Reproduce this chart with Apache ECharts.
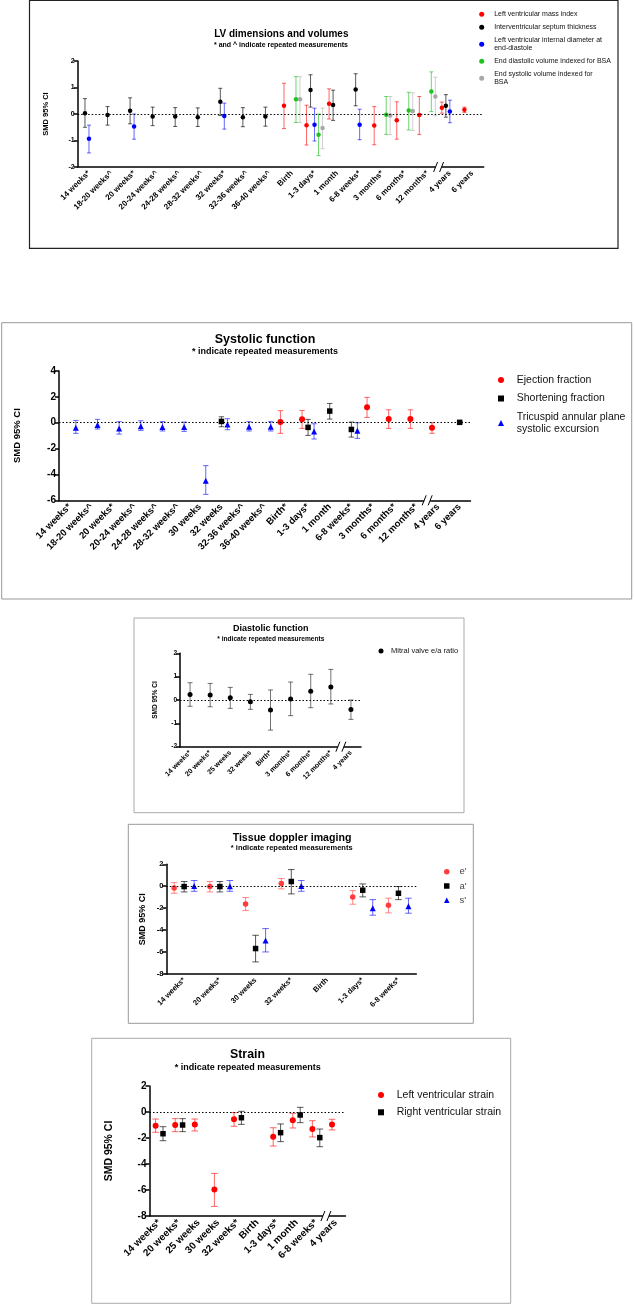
<!DOCTYPE html>
<html><head><meta charset="utf-8">
<script src="https://cdn.jsdelivr.net/npm/echarts@6/dist/echarts.min.js"></script>
<style>html,body{margin:0;padding:0;background:#fff}#c{width:634px;height:1304px}</style>
</head><body><div id="c"></div>
<script>
const _ = null;
// ===== DATA: each entry is [SMD, lower 95% CI, upper 95% CI] or null =====
// Panel 1: LV dimensions and volumes
const lvCategories = ['14 weeks*','18-20 weeks^','20 weeks*','20-24 weeks^','24-28 weeks^','28-32 weeks^','32 weeks*','32-36 weeks^','36-40 weeks^','Birth','1-3 days*','1 month','6-8 weeks*','3 months*','6 months*','12 months*','4 years','6 years'];
const lvMassIndex = [_,_,_,_,_,_,_,_,_,[0.31,-0.55,1.16],[-0.42,-1.17,0.33],[0.39,-0.19,0.95],_,[-0.43,-1.16,0.28],[-0.24,-0.95,0.46],[-0.04,-0.77,0.66],[0.24,0.03,0.45],[0.16,0.06,0.26]];
const ivsThickness = [[0.03,-0.50,0.58],[-0.04,-0.42,0.28],[0.12,-0.37,0.61],[-0.09,-0.44,0.26],[-0.09,-0.47,0.24],[-0.12,-0.47,0.23],[0.46,-0.06,0.97],[-0.12,-0.48,0.24],[-0.09,-0.46,0.26],_,[0.91,0.26,1.48],[0.34,-0.24,0.90],[0.92,0.31,1.52],_,_,_,[0.31,-0.12,0.73],_];
const lvidDiastole = [[-0.93,-1.47,-0.42],_,[-0.47,-0.95,0.0],_,_,_,[-0.08,-0.57,0.41],_,_,_,[-0.41,-1.02,0.22],_,[-0.41,-0.97,0.18],_,_,_,[0.09,-0.33,0.52],_];
const edvIndexed = [_,_,_,_,_,_,_,_,_,[0.56,-0.32,1.41],[-0.78,-1.57,0.0],_,_,[-0.03,-0.77,0.66],[0.13,-0.60,0.82],[0.85,0.09,1.59],_,_];
const esvIndexed = [_,_,_,_,_,_,_,_,_,[0.56,-0.32,1.41],[-0.53,-1.31,0.22],_,_,[-0.06,-0.78,0.66],[0.11,-0.62,0.80],[0.66,-0.07,1.39],_,_];
// Panel 2: Systolic function
const sysCategories = ['14 weeks*','18-20 weeks^','20 weeks*','20-24 weeks^','24-28 weeks^','28-32 weeks^','30 weeks','32 weeks','32-36 weeks^','36-40 weeks^','Birth*','1-3 days*','1 month','6-8 weeks*','3 months*','6 months*','12 months*','4 years','6 years'];
const ejectionFraction = [_,_,_,_,_,_,_,_,_,_,[0.05,-0.82,0.93],[0.26,-0.44,0.95],_,_,[1.19,0.41,1.96],[0.28,-0.44,1.0],[0.28,-0.44,1.0],[-0.39,-0.82,0.0],_];
const shorteningFraction = [_,_,_,_,_,_,_,[0.10,-0.31,0.46],_,_,_,[-0.36,-0.98,0.26],[0.90,0.28,1.49],[-0.52,-1.11,0.05],_,_,_,_,[0.03,-0.05,0.10]];
const tapse = [[-0.39,-0.82,0.18],[-0.18,-0.49,0.26],[-0.44,-0.88,0.08],[-0.28,-0.59,0.15],[-0.34,-0.64,0.08],[-0.34,-0.67,0.05],[-4.48,-5.54,-3.32],[-0.13,-0.54,0.31],[-0.31,-0.64,0.08],[-0.31,-0.64,0.08],_,[-0.67,-1.26,-0.08],_,[-0.62,-1.21,0.0],_,_,_,_,_];
// Panel 3: Diastolic function
const diaCategories = ['14 weeks*','20 weeks*','25 weeks','32 weeks','Birth*','3 months*','6 months*','12 months*','4 years'];
const mitralEA = [[0.24,-0.27,0.74],[0.21,-0.29,0.71],[0.10,-0.36,0.54],[-0.07,-0.40,0.24],[-0.43,-1.29,0.43],[0.04,-0.67,0.77],[0.37,-0.33,1.10],[0.56,-0.17,1.31],[-0.41,-0.83,0.0]];
// Panel 4: Tissue doppler imaging
const tdiCategories = ['14 weeks*','20 weeks*','30 weeks','32 weeks*','Birth','1-3 days*','6-8 weeks*'];
const ePrime = [[-0.15,-0.64,0.33],[-0.03,-0.52,0.43],[-1.61,-2.22,-1.03],[0.24,-0.24,0.70],_,[-0.97,-1.64,-0.40],[-1.73,-2.43,-1.09]];
const aPrime = [[-0.03,-0.52,0.43],[-0.03,-0.52,0.43],[-5.68,-6.90,-4.47],[0.43,-0.70,1.52],_,[-0.36,-0.97,0.21],[-0.64,-1.22,-0.03]];
const sPrime = [[0.03,-0.46,0.52],[0.0,-0.46,0.52],[-4.95,-5.99,-3.86],[0.03,-0.46,0.52],_,[-2.0,-2.64,-1.22],[-1.82,-2.46,-1.09]];
// Panel 5: Strain
const strainCategories = ['14 weeks*','20 weeks*','25 weeks','30 weeks','32 weeks*','Birth','1-3 days*','1 month','6-8 weeks*','4 years'];
const lvStrain = [[-1.05,-1.56,-0.54],[-1.0,-1.51,-0.51],[-0.97,-1.46,-0.54],[-5.97,-7.26,-4.72],[-0.56,-1.10,-0.05],_,[-1.90,-2.62,-1.21],[-0.64,-1.23,-0.10],[-1.31,-1.92,-0.67],[-0.97,-1.38,-0.56]];
const rvStrain = [[-1.67,-2.21,-1.13],[-1.0,-1.51,-0.51],_,_,[-0.44,-0.95,0.05],_,[-1.59,-2.28,-0.92],[-0.23,-0.82,0.36],[-1.97,-2.67,-1.31],_];

// ===== STYLE / LAYOUT =====
const FONT = '"Liberation Sans", Arial, Helvetica, sans-serif';
const RED='#ff0000', BLACK='#000000', BLUE='#0000ff', GREEN='#1fc21f', GREY='#a8a8a8';
const series = [];

function errRender(offset, cap, color, lw) {
  return function (params, api) {
    const i = api.value(0);
    const lo = api.coord([i, api.value(2)]);
    const hi = api.coord([i, api.value(3)]);
    const x = lo[0] + offset;
    const style = { stroke: color, lineWidth: lw, fill: null };
    return { type: 'group', children: [
      { type: 'line', shape: { x1: x, y1: lo[1], x2: x, y2: hi[1] }, style },
      { type: 'line', shape: { x1: x - cap, y1: lo[1], x2: x + cap, y2: lo[1] }, style },
      { type: 'line', shape: { x1: x - cap, y1: hi[1], x2: x + cap, y2: hi[1] }, style }
    ]};
  };
}
function addMeasure(gi, name, values, o) {
  const pts = [], bars = [];
  values.forEach((v, i) => { if (v) { pts.push([i, v[0]]); bars.push([i, v[0], v[1], v[2]]); } });
  series.push({ type: 'custom', name: name + ' (CI)', xAxisIndex: gi, yAxisIndex: gi, z: 2, silent: true, clip: false,
    renderItem: errRender(o.offset, o.cap, o.bar, o.lw || 1), encode: { x: 0, y: [1, 2, 3] }, data: bars });
  const s = { type: 'scatter', name, xAxisIndex: gi, yAxisIndex: gi, z: 3, silent: true,
    symbol: o.symbol || 'circle', symbolSize: o.size, symbolOffset: [o.offset, 0],
    itemStyle: { color: o.color, opacity: 1 }, data: pts };
  if (o.zero) s.markLine = { silent: true, symbol: 'none', animation: false, label: { show: false },
    lineStyle: { type: [1.5, 2], color: '#000', width: 1.2 }, data: [{ yAxis: 0 }] };
  series.push(s);
}
function addBreak(gi, afterIndex, ymin) {
  series.push({ type: 'custom', xAxisIndex: gi, yAxisIndex: gi, silent: true, z: 6, clip: false,
    data: [[afterIndex, ymin]], encode: { x: 0, y: 1 },
    renderItem(params, api) {
      const a = api.coord([api.value(0), api.value(1)]);
      const b = api.coord([api.value(0) + 1, api.value(1)]);
      const x = (a[0] + b[0]) / 2, y = params.coordSys.y + params.coordSys.height;
      const st = { stroke: '#000', lineWidth: 1, fill: null };
      return { type: 'group', children: [
        { type: 'rect', shape: { x: x - 3, y: y - 2, width: 6, height: 4 }, style: { fill: '#fff', stroke: null } },
        { type: 'line', shape: { x1: x - 5, y1: y + 5, x2: x - 1, y2: y - 5 }, style: st },
        { type: 'line', shape: { x1: x + 1, y1: y + 5, x2: x + 5, y2: y - 5 }, style: st }
      ]};
    } });
}
function xAx(gi, cats, fs) {
  return { type: 'category', gridIndex: gi, data: cats, boundaryGap: true,
    axisLine: { onZero: false, lineStyle: { color: '#000', width: 1.5 } },
    axisTick: { alignWithLabel: true, length: 4, lineStyle: { color: '#000', width: 1.5 } },
    axisLabel: { interval: 0, rotate: 45, margin: 5, color: '#000', fontWeight: 'bold', fontSize: fs, fontFamily: FONT },
    splitLine: { show: false } };
}
function yAx(gi, min, max, step, fs, nameFs, gap) {
  return { type: 'value', gridIndex: gi, min, max, interval: step,
    name: 'SMD 95% CI', nameLocation: 'middle', nameGap: gap, nameRotate: 90,
    nameTextStyle: { fontSize: nameFs, fontWeight: 'bold', color: '#000', fontFamily: FONT },
    axisLine: { show: true, onZero: false, lineStyle: { color: '#000', width: 1.5 } },
    axisTick: { show: true, length: 4, lineStyle: { color: '#000', width: 1.5 } },
    axisLabel: { color: '#000', fontWeight: 'bold', fontSize: fs, margin: 3, fontFamily: FONT },
    splitLine: { show: false } };
}

// Panel 1
addMeasure(0, 'Left ventricular mass index', lvMassIndex, { offset: -8, cap: 2, color: RED, bar: 'rgba(255,0,0,0.6)', size: 4.5, zero: true });
addMeasure(0, 'Interventricular septum thickness', ivsThickness, { offset: -4, cap: 2, color: BLACK, bar: 'rgba(0,0,0,0.65)', size: 4.5 });
addMeasure(0, 'Left ventricular internal diameter at end-diastole', lvidDiastole, { offset: 0, cap: 2, color: BLUE, bar: 'rgba(0,0,255,0.6)', size: 4.5 });
addMeasure(0, 'End diastolic volume indexed for BSA', edvIndexed, { offset: 4, cap: 2, color: GREEN, bar: 'rgba(30,194,30,0.65)', size: 4.5 });
addMeasure(0, 'End systolic volume indexed for BSA', esvIndexed, { offset: 8, cap: 2, color: GREY, bar: 'rgba(168,168,168,0.55)', size: 4.5 });
addBreak(0, 15, -2);
// Panel 2
addMeasure(1, 'Ejection fraction', ejectionFraction, { offset: -6, cap: 2.7, color: RED, bar: 'rgba(255,0,0,0.6)', size: 6, zero: true });
addMeasure(1, 'Shortening fraction', shorteningFraction, { offset: 0, cap: 2.7, color: BLACK, bar: 'rgba(0,0,0,0.65)', size: 5.5, symbol: 'rect' });
addMeasure(1, 'Tricuspid annular plane systolic excursion', tapse, { offset: 6, cap: 2.7, color: BLUE, bar: 'rgba(0,0,255,0.6)', size: 6, symbol: 'triangle' });
addBreak(1, 16, -6);
// Panel 3
addMeasure(2, 'Mitral valve e/a ratio', mitralEA, { offset: 0, cap: 2.5, color: BLACK, bar: 'rgba(0,0,0,0.55)', size: 5, zero: true });
addBreak(2, 7, -2);
// Panel 4
addMeasure(3, "e'", ePrime, { offset: -10, cap: 3.3, color: '#ff3b3b', bar: 'rgba(255,40,40,0.55)', size: 5.5, zero: true });
addMeasure(3, "a'", aPrime, { offset: 0, cap: 3.3, color: BLACK, bar: 'rgba(0,0,0,0.65)', size: 5.5, symbol: 'rect' });
addMeasure(3, "s'", sPrime, { offset: 10, cap: 3.3, color: BLUE, bar: 'rgba(0,0,255,0.6)', size: 6, symbol: 'triangle' });
// Panel 5
addMeasure(4, 'Left ventricular strain', lvStrain, { offset: -3.7, cap: 3.3, color: RED, bar: 'rgba(255,0,0,0.6)', size: 6, zero: true });
addMeasure(4, 'Right ventricular strain', rvStrain, { offset: 3.7, cap: 3.3, color: BLACK, bar: 'rgba(0,0,0,0.65)', size: 5.5, symbol: 'rect' });
addBreak(4, 8, -8);

function legend(names, left, top, fs, sz, pad, gap, lh, color, fmt) {
  return { orient: 'vertical', left, top, itemWidth: sz, itemHeight: sz, itemGap: gap, padding: 0,
    selectedMode: false, data: names,
    textStyle: { fontSize: fs, lineHeight: lh, color: color || '#111', fontFamily: FONT, padding: [0, 0, 0, pad] },
    formatter: fmt ? (n => fmt[n] || n) : undefined };
}
function frame(x, y, w, h, c, lw) {
  return { type: 'rect', shape: { x, y, width: w, height: h }, style: { fill: null, stroke: c, lineWidth: lw || 1 }, silent: true };
}
function txt(s, x, y, fs) {
  return { type: 'text', x, y, silent: true, style: { text: s, font: 'bold ' + fs + 'px ' + FONT, fill: '#000', textAlign: 'center', textVerticalAlign: 'middle' } };
}

const option = {
  animation: false,
  backgroundColor: '#fff',
  grid: [
    { left: 77.7, top: 61, width: 406, height: 106, containLabel: false, outerBoundsMode: 'none' },
    { left: 59, top: 371, width: 411.5, height: 129.3, containLabel: false, outerBoundsMode: 'none' },
    { left: 180, top: 653.3, width: 181, height: 93.4, containLabel: false, outerBoundsMode: 'none' },
    { left: 166.3, top: 864.3, width: 250, height: 109.7, containLabel: false, outerBoundsMode: 'none' },
    { left: 149.5, top: 1086, width: 196, height: 130, containLabel: false, outerBoundsMode: 'none' }
  ],
  xAxis: [ xAx(0, lvCategories, 8), xAx(1, sysCategories, 9.5), xAx(2, diaCategories, 7), xAx(3, tdiCategories, 7.5), xAx(4, strainCategories, 10) ],
  yAxis: [ yAx(0, -2, 2, 1, 7, 7.5, 28), yAx(1, -6, 4, 2, 10, 9.5, 37), yAx(2, -2, 2, 1, 6.5, 6.5, 21), yAx(3, -8, 2, 2, 7.5, 9, 19.5), yAx(4, -8, 2, 2, 10, 10.5, 35) ],
  legend: [
    legend(['Left ventricular mass index','Interventricular septum thickness','Left ventricular internal diameter at end-diastole','End diastolic volume indexed for BSA','End systolic volume indexed for BSA'],
      479.2, 10.2, 7, 5, 5, 5, 8, '#111',
      { 'Left ventricular internal diameter at end-diastole': 'Left ventricular internal diameter at\nend-diastole', 'End systolic volume indexed for BSA': 'End systolic volume indexed for\nBSA' }),
    legend(['Ejection fraction','Shortening fraction','Tricuspid annular plane systolic excursion'], 498, 374, 10.5, 6, 7.7, 6.5, 12, '#111',
      { 'Tricuspid annular plane systolic excursion': 'Tricuspid annular plane\nsystolic excursion' }),
    legend(['Mitral valve e/a ratio'], 378.5, 646.5, 7.5, 5, 2.5, 5, 9, '#111'),
    legend(["e'", "a'", "s'"], 444, 866.7, 9.5, 5.5, 4.9, 4.3, 10, '#444'),
    legend(['Left ventricular strain','Right ventricular strain'], 378, 1089, 10.5, 6, 7.7, 5.3, 12, '#111')
  ],
  graphic: { elements: [
    frame(29.5, 0.5, 588.5, 247.8, '#222', 1.2),
    frame(1.7, 322.7, 630, 276.3, '#999', 1),
    frame(134, 618, 330, 194.7, '#aaa', 1),
    frame(128.3, 824.3, 345, 199, '#999', 1),
    frame(91.7, 1038.3, 419, 265, '#aaa', 1),
    txt('LV dimensions and volumes', 281.3, 34.7, 10),
    txt('* and ^ indicate repeated measurements', 281, 45, 7),
    txt('Systolic function', 265, 339.3, 12.5),
    txt('* indicate repeated measurements', 265, 352, 9),
    txt('Diastolic function', 270.8, 629, 9),
    txt('* indicate repeated measurements', 270.8, 639.3, 6.6),
    txt('Tissue doppler imaging', 292, 838.3, 10.6),
    txt('* indicate repeated measurements', 291.7, 848.3, 7.5),
    txt('Strain', 247.5, 1055, 12.3),
    txt('* indicate repeated measurements', 247.8, 1067.3, 9)
  ] },
  series
};
const chart = echarts.init(document.getElementById('c'), null, { renderer: 'canvas', width: 634, height: 1304 });
chart.setOption(option);
</script>
</body></html>
